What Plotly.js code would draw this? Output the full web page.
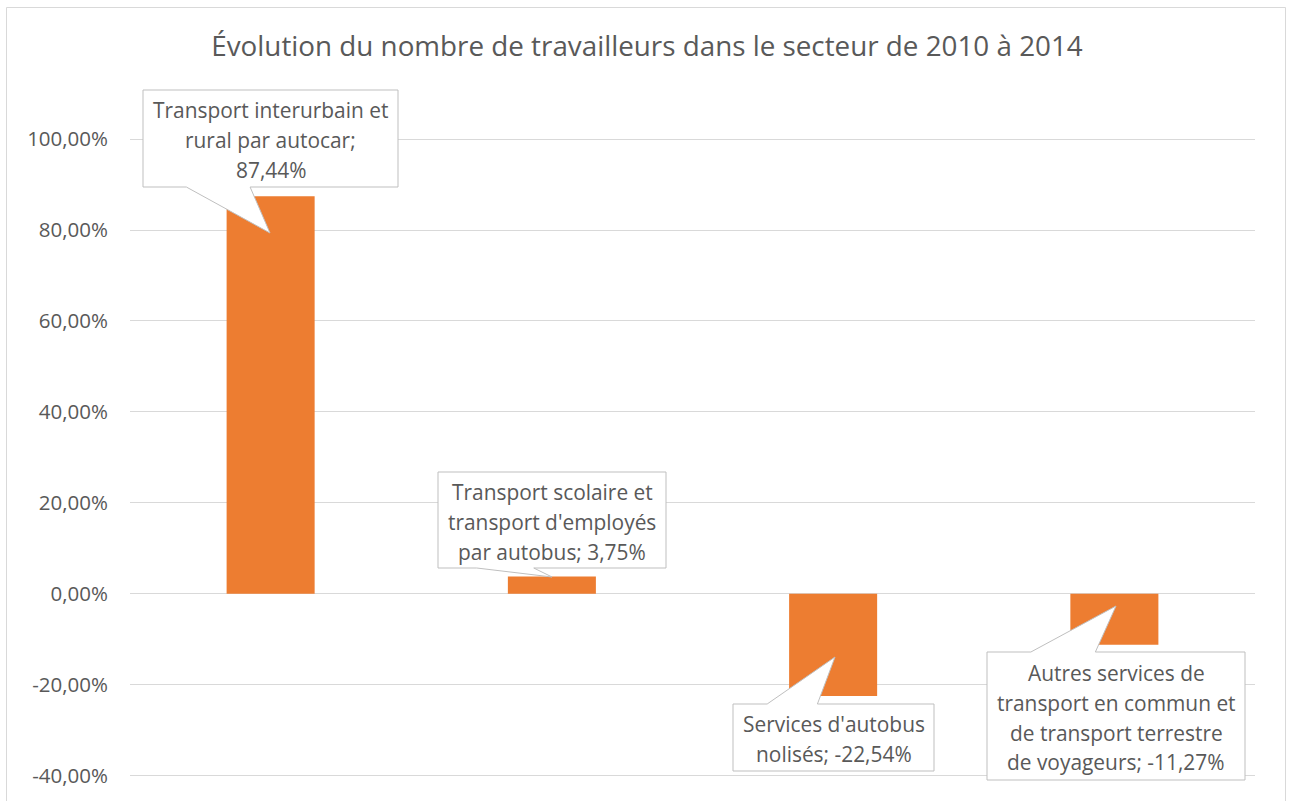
<!DOCTYPE html>
<html><head><meta charset="utf-8">
<script src="https://cdn.plot.ly/plotly-3.0.1.min.js"></script>
<style>html,body{margin:0;padding:0;background:#fff}#chart{width:1294px;height:801px}</style>
</head><body><div id="chart"></div>
<script>
// ---- data ----
const chartTitle = "Évolution du nombre de travailleurs dans le secteur de 2010 à 2014";
const categories = [
  "Transport interurbain et rural par autocar",
  "Transport scolaire et transport d'employés par autobus",
  "Services d'autobus nolisés",
  "Autres services de transport en commun et de transport terrestre de voyageurs"
];
const values = [87.44, 3.75, -22.54, -11.27];
const tickValues = [-40, -20, 0, 20, 40, 60, 80, 100];

function fmtPct(v){ return v.toFixed(2).replace('.', ',') + '%'; }
const tickLabels = tickValues.map(fmtPct);

// ---- layout constants ----
const FONT = "'Open Sans', sans-serif";
const W = 1294, H = 801;
const M = {l:130, r:39, t:85, b:11};
const xRange = [-0.5, 3.5];
const yRange = [-43.2, 111.9];
const pw = W - M.l - M.r, ph = H - M.t - M.b;
function xd(px){ return xRange[0] + (px - M.l) / pw * (xRange[1] - xRange[0]); }
function yd(py){ return yRange[1] - (py - M.t) / ph * (yRange[1] - yRange[0]); }
function xp(px){ return (px - M.l) / pw; }
function yp(py){ return (H - M.b - py) / ph; }

// callout boxes (pixel layout): [left, top, right, bottom], tail side, tail tip, wrap width
const callouts = [
  {box:[143, 90, 398, 187], side:'bottom', tip:[270, 233], wrap:24},
  {box:[438, 472, 666, 568], side:'bottom', tip:[552, 577], wrap:21},
  {box:[733, 704, 934, 771], side:'top', tip:[835, 657], wrap:18},
  {box:[987, 652, 1245, 780], side:'top', tip:[1116, 606], wrap:22}
];
const LINE_STEP = 29.8, LINE_OFF = 1.7;

function wrapText(str, width){
  const words = str.split(' ');
  const lines = [];
  let cur = '';
  words.forEach(w => {
    if (!cur) cur = w;
    else if ((cur + ' ' + w).length <= width) cur += ' ' + w;
    else { lines.push(cur); cur = w; }
  });
  if (cur) lines.push(cur);
  return lines;
}

const shapes = [];
const annotations = [];

// chart frame
shapes.push({type:'rect', xref:'paper', yref:'paper',
  x0: xp(6.5), x1: xp(1285.5), y0: yp(808), y1: yp(7.5),
  line:{color:'#D9D9D9', width:1}, fillcolor:'rgba(0,0,0,0)', layer:'above'});

callouts.forEach((c, i) => {
  const [L, T, R, B] = c.box;
  const w = R - L;
  const b1 = L + 0.17 * w, b2 = L + 0.42 * w;
  let pts;
  if (c.side === 'bottom') {
    pts = [[L,T],[R,T],[R,B],[b2,B],c.tip,[b1,B],[L,B]];
  } else {
    pts = [[L,T],[b1,T],c.tip,[b2,T],[R,T],[R,B],[L,B]];
  }
  const path = pts.map((p, k) => (k ? 'L' : 'M') + xd(p[0]).toFixed(5) + ',' + yd(p[1]).toFixed(5)).join(' ') + ' Z';
  shapes.push({type:'path', xref:'x', yref:'y', path:path,
    fillcolor:'#FFFFFF', line:{color:'#BFBFBF', width:1}, layer:'above'});

  const label = categories[i] + '; ' + fmtPct(values[i]);
  const lines = wrapText(label, c.wrap);
  const cx = (L + R) / 2, cy = (T + B) / 2 + LINE_OFF;
  const n = lines.length;
  lines.forEach((ln, k) => {
    annotations.push({x: xd(cx), y: yd(cy + (k - (n - 1) / 2) * LINE_STEP),
      xref:'x', yref:'y', text: ln, showarrow:false,
      xanchor:'center', yanchor:'middle',
      font:{family:FONT, size:20.9, color:'#595959'}});
  });
});

const trace = {
  type:'bar',
  x: values.map((v, i) => i),
  y: values,
  hovertext: categories,
  width: 0.313,
  marker:{color:'#ED7D31'},
  hoverinfo:'text+y'
};

const layout = {
  width: W, height: H,
  margin: M,
  paper_bgcolor:'#FFFFFF', plot_bgcolor:'rgba(0,0,0,0)',
  showlegend:false,
  title:{text: chartTitle, font:{family:FONT, size:27.8, color:'#595959'},
    x:0.5, xref:'container', xanchor:'center', y: 1 - 46/801, yref:'container', yanchor:'middle'},
  xaxis:{range:xRange, showgrid:false, zeroline:false, showline:false,
    showticklabels:false, ticks:'', fixedrange:true},
  yaxis:{range:yRange, tickmode:'array', tickvals:tickValues, ticktext:tickLabels,
    showgrid:true, gridcolor:'#D9D9D9', gridwidth:1, zeroline:false, showline:false,
    ticks:'', ticklabelstandoff:21, tickfont:{family:FONT, size:20.5, color:'#595959'}, fixedrange:true},
  shapes: shapes,
  annotations: annotations
};

Plotly.newPlot('chart', [trace], layout, {displayModeBar:false, staticPlot:true});
</script>
</body></html>
